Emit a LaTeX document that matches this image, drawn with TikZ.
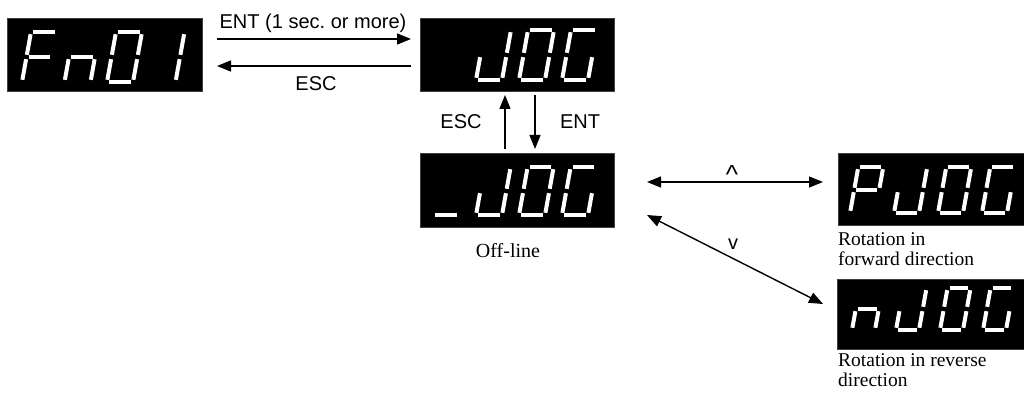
\documentclass[tikz,border=0pt]{standalone}
\usepackage{fontspec}
\setmainfont{Liberation Serif}
\newfontfamily\sansf{Liberation Sans}
\usetikzlibrary{arrows.meta}
\tikzset{
  disp/.style={fill=black,draw=black!75,line width=0.8pt,inner sep=0pt,anchor=north west},
  segline/.style={draw=white,line width=4pt,line cap=butt},
  conn/.style={line width=1.4pt,-{Triangle[length=14pt,width=11pt]}},
  bconn/.style={line width=1.4pt,{Triangle[length=14pt,width=11pt]}-{Triangle[length=14pt,width=11pt]}},
  slab/.style={font=\sansf\fontsize{20}{24}\selectfont,inner sep=0pt,anchor=base},
  rlab/.style={font=\fontsize{19.5}{20}\selectfont,inner sep=0pt,anchor=base west},
}
\newcommand{\oneseg}[1]{%
 \if a#1\draw[segline] ({\dg},{\dH})--({\dW-\dg},{\dH});\fi
 \if b#1\draw[segline] ({\dW},{\dH-\dg})--({\dW},{\dH/2+\dg});\fi
 \if c#1\draw[segline] ({\dW},{\dH/2-\dg})--({\dW},{\dg});\fi
 \if d#1\draw[segline] ({\dg},0)--({\dW-\dg},0);\fi
 \if e#1\draw[segline] (0,{\dg})--(0,{\dH/2-\dg});\fi
 \if f#1\draw[segline] (0,{\dH/2+\dg})--(0,{\dH-\dg});\fi
 \if g#1\draw[segline] ({\dg},{\dH/2})--({\dW-\dg},{\dH/2});\fi}
\newcommand{\dig}[5]{%
 \begin{scope}[shift={(#1,-#2)},xslant=0.18]
 \def\dH{#3}\def\dW{#4}\def\dg{2.2}
 \foreach \s in {#5}{\oneseg{\s}}
 \end{scope}}
\begin{document}
\begin{tikzpicture}[x=1pt,y=1pt]
\useasboundingbox (0,0) rectangle (1024,-398);
\clip (0,0) rectangle (1024,-398);
% displays
\node[disp,minimum width=195pt,minimum height=73pt] (fn) at (7,-18) {};
\node[disp,minimum width=194pt,minimum height=73pt] (jog) at (420,-18) {};
\node[disp,minimum width=194pt,minimum height=74pt] (ljog) at (420,-153) {};
\node[disp,minimum width=194pt,minimum height=72pt] (pjog) at (838,-153) {};
\node[disp,minimum width=194pt,minimum height=70pt] (njog) at (837,-279) {};
% digits: Fn01
\dig{22}{82}{50}{26}{a,e,f,g}
\dig{64.5}{82}{50}{26}{c,e,g}
\dig{107}{82}{50}{26}{a,b,c,d,e,f}
\dig{149.5}{82}{50}{26}{b,c}
% JOG
\dig{476}{80}{50}{26}{b,c,d,e}
\dig{519}{80}{50}{26}{a,b,c,d,e,f}
\dig{562}{80}{50}{26}{a,c,d,e,f}
% _JOG
\dig{433}{215}{48}{26}{d}
\dig{476}{215}{48}{26}{b,c,d,e}
\dig{519}{215}{48}{26}{a,b,c,d,e,f}
\dig{562}{215}{48}{26}{a,c,d,e,f}
% PJOG
\dig{850}{213}{46}{25}{a,b,e,f,g}
\dig{894}{213}{46}{25}{b,c,d,e}
\dig{938}{213}{46}{25}{a,b,c,d,e,f}
\dig{982}{213}{46}{25}{a,c,d,e,f}
% nJOG
\dig{852}{330}{42}{23}{c,e,g}
\dig{896}{330}{42}{23}{b,c,d,e}
\dig{940}{330}{42}{23}{a,b,c,d,e,f}
\dig{983}{330}{42}{23}{a,c,d,e,f}
% connector end points
\coordinate (fnA) at (217,-39);
\coordinate (jogA) at (411,-39);
\coordinate (fnB) at (217,-66);
\coordinate (jogB) at (411,-66);
\coordinate (jogU) at (505,-95);
\coordinate (ljogU) at (505,-149);
\coordinate (jogD) at (535,-95);
\coordinate (ljogD) at (535,-149);
\coordinate (ljogR) at (647,-182);
\coordinate (pjogL) at (823,-182);
\coordinate (ljogR2) at (647,-215);
\coordinate (njogL) at (823,-304);
% connectors
\draw[conn] (fnA) -- (jogA);
\draw[conn] (jogB) -- (fnB);
\draw[conn] (ljogU) -- (jogU);
\draw[conn] (jogD) -- (ljogD);
\draw[bconn] (ljogR) -- (pjogL);
\draw[bconn] (ljogR2) -- (njogL);
% labels
\node[slab] (l1) at (313,-29) {ENT (1 sec.\ or more)};
\node[slab] (l2) at (316,-91) {ESC};
\node[slab] (l3) at (461,-129) {ESC};
\node[slab] (l4) at (580,-129) {ENT};
\node[slab,font=\sansf\fontsize{26}{26}\selectfont] (l5) at (732,-183) {\textasciicircum};
\node[slab] (l6) at (733,-249) {v};
\node[font=\fontsize{20}{20}\selectfont,inner sep=0pt,anchor=base] (off) at (508,-257) {Off-line};
\node[rlab] (r1) at (838,-245) {Rotation in};
\node[rlab] (r2) at (838,-265) {forward direction};
\node[rlab] (r3) at (838,-366) {Rotation in reverse};
\node[rlab] (r4) at (838,-386) {direction};
\end{tikzpicture}
\end{document}
